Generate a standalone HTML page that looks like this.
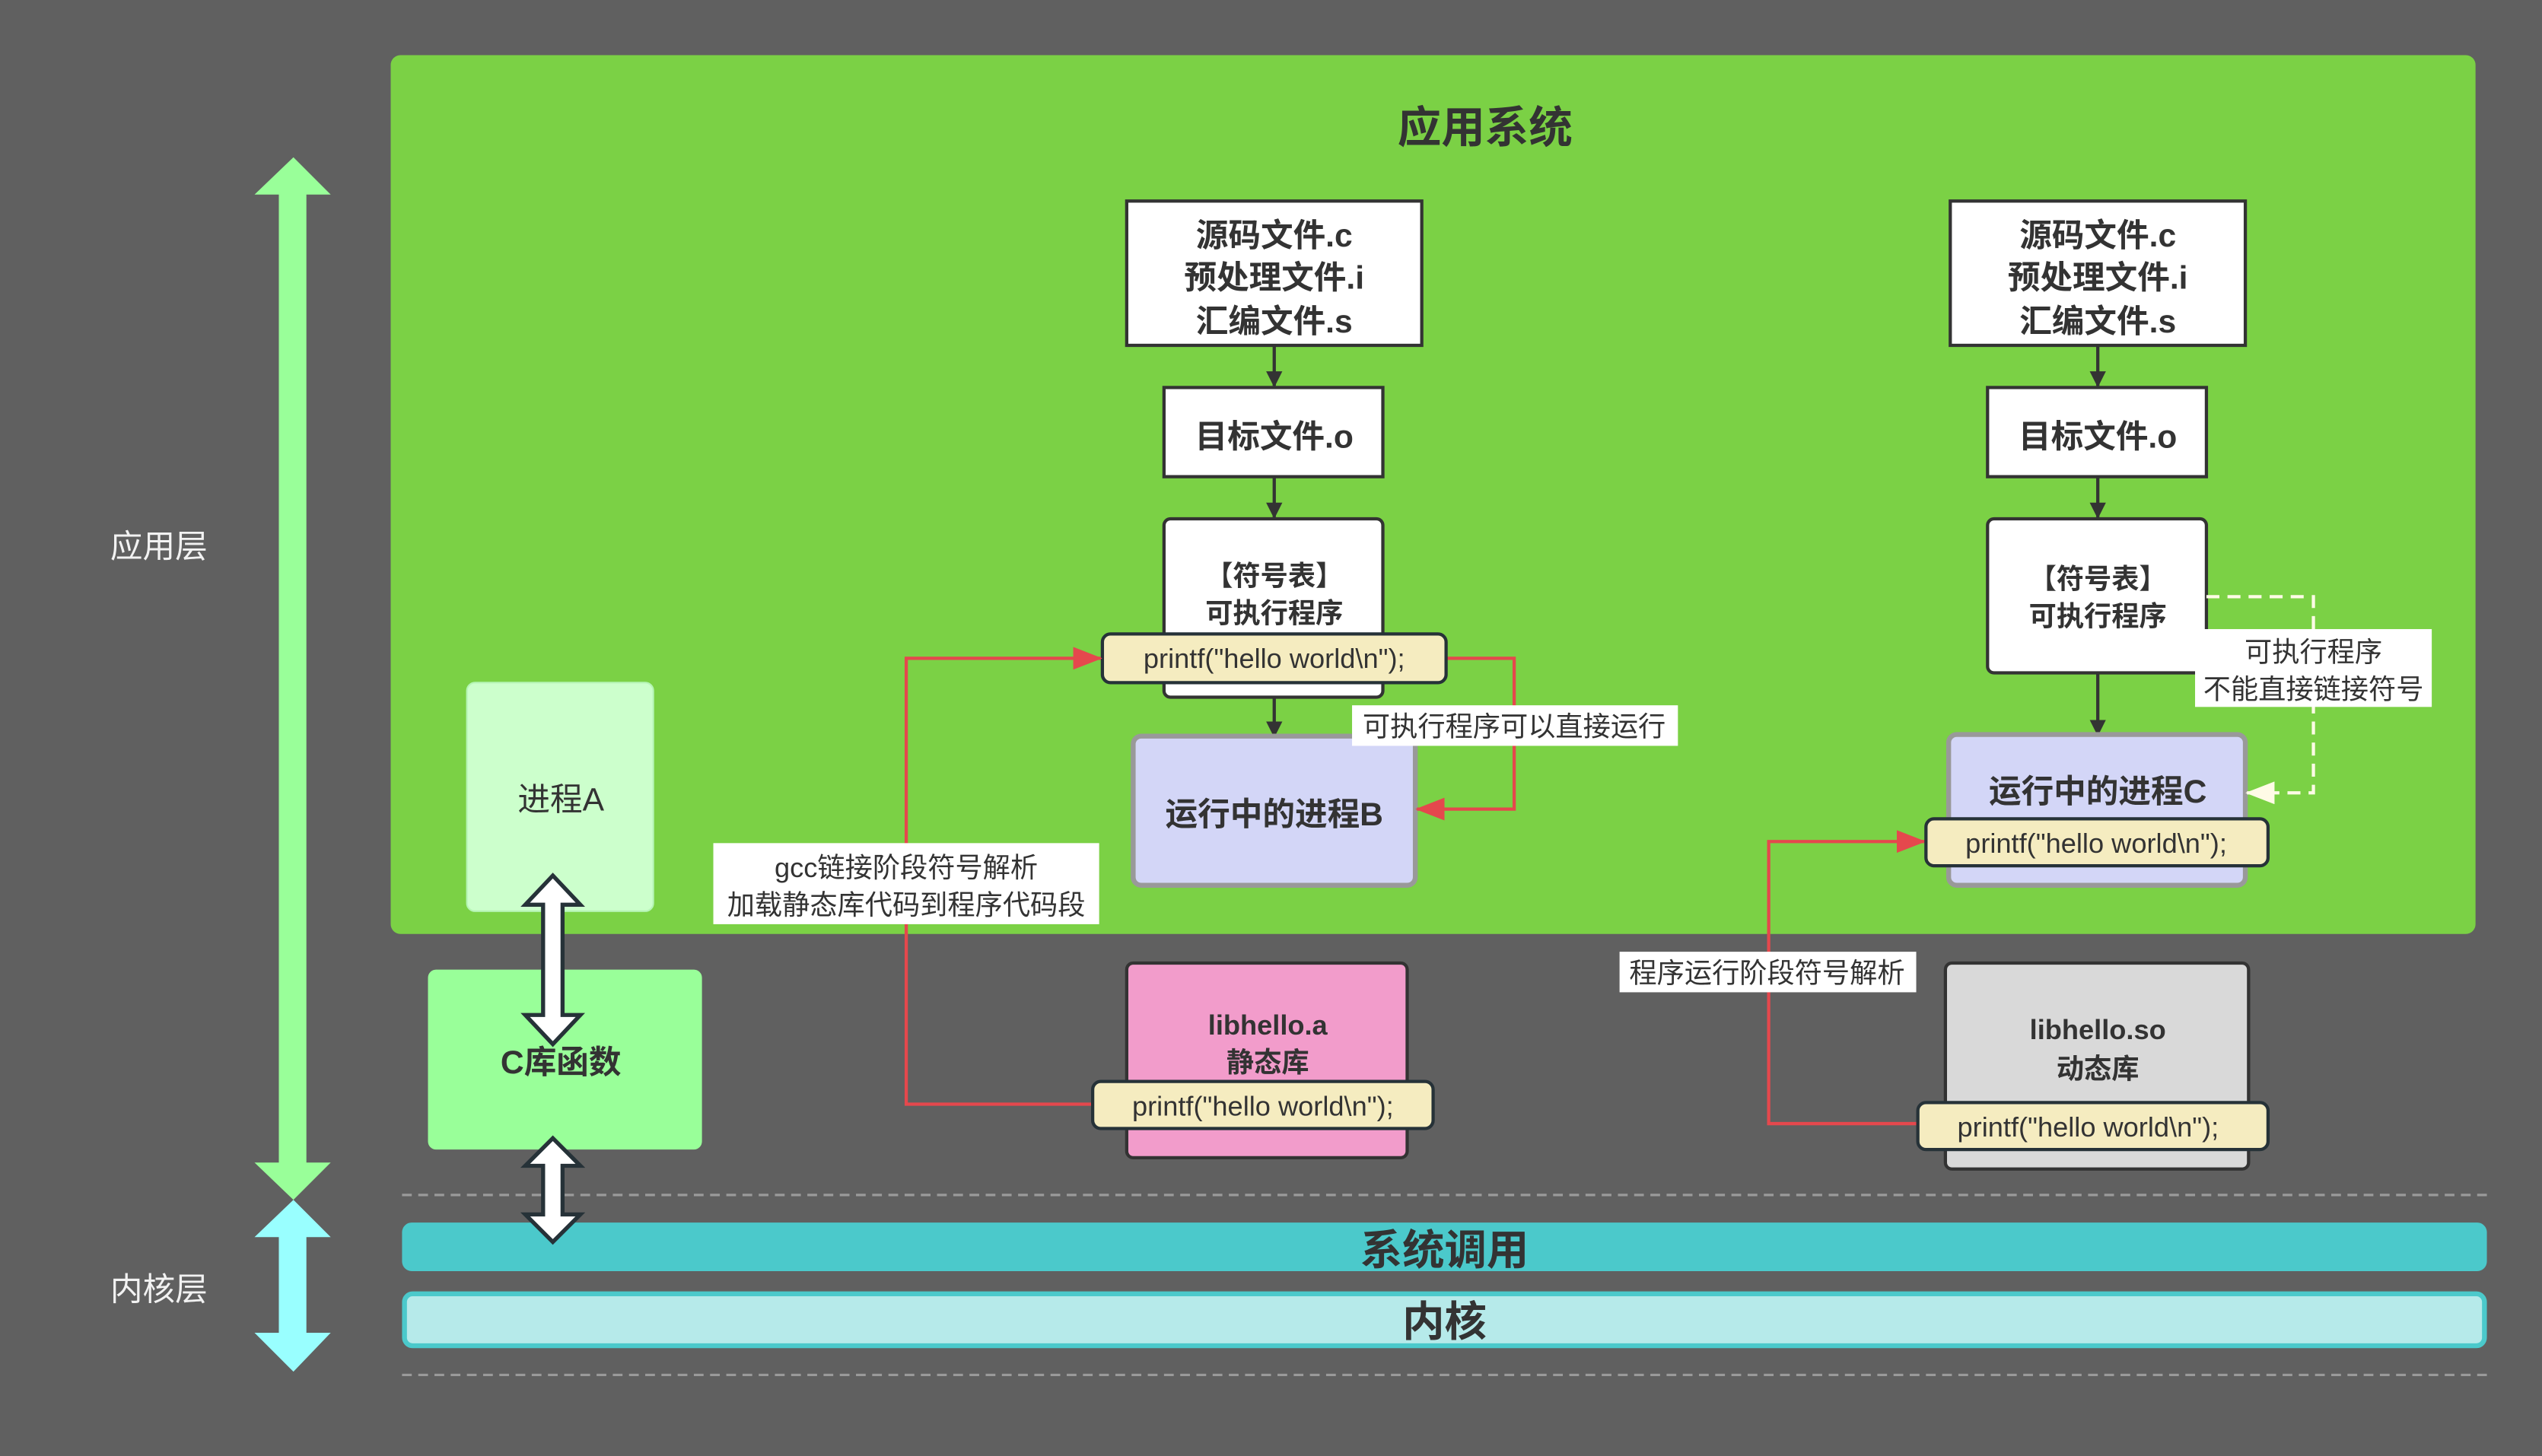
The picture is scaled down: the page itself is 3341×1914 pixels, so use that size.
<!DOCTYPE html>
<html><head><meta charset="utf-8"><style>
html,body{margin:0;padding:0;background:#606060;}
svg{display:block;}
text{font-family:"Liberation Sans","Noto Sans CJK SC",sans-serif;fill:#333;}
.b{font-weight:bold;}
</style></head><body>
<svg width="3341" height="1914" viewBox="0 0 1568 898" preserveAspectRatio="none" xmlns="http://www.w3.org/2000/svg">
<defs>
<marker id="ak" markerWidth="10" markerHeight="10" refX="9" refY="5" orient="auto" markerUnits="userSpaceOnUse"><path d="M0,0 L10,5 L0,10 z" fill="#333"/></marker>
<marker id="ar" markerWidth="18" markerHeight="14" refX="17" refY="7" orient="auto" markerUnits="userSpaceOnUse"><path d="M0,0 L18,7 L0,14 z" fill="#e5484d"/></marker>
<marker id="aw" markerWidth="18" markerHeight="14" refX="17" refY="7" orient="auto" markerUnits="userSpaceOnUse"><path d="M0,0 L18,7 L0,14 z" fill="#fffbe6"/></marker>
</defs>
<rect width="1568" height="898" fill="#606060"/>
<rect x="241" y="34" width="1286" height="542" rx="6" fill="#7bd145"/>
<text x="916" y="88" font-size="27" class="b" text-anchor="middle">应用系统</text>

<!-- left layer arrows -->
<polygon points="181,97 204,120 189,120 189,717 204,717 181,740 157,717 172,717 172,120 157,120" fill="#99ff99"/>
<polygon points="181,740 204,763 189,763 189,822 204,822 181,846 157,822 172,822 172,763 157,763" fill="#99ffff"/>
<text x="98" y="344" font-size="20" text-anchor="middle" style="fill:#f2f2f2">应用层</text>
<text x="98" y="802" font-size="20" text-anchor="middle" style="fill:#f2f2f2">内核层</text>

<!-- dashed lines -->
<line x1="248" y1="737" x2="1534" y2="737" stroke="#9a9a9a" stroke-width="1.5" stroke-dasharray="6,4"/>
<line x1="248" y1="848" x2="1534" y2="848" stroke="#9a9a9a" stroke-width="1.5" stroke-dasharray="6,4"/>

<!-- bars -->
<rect x="248" y="754" width="1286" height="30" rx="6" fill="#4bc9cb"/>
<text x="891" y="780" font-size="26" class="b" text-anchor="middle">系统调用</text>
<rect x="249.5" y="798" width="1283" height="32" rx="5" fill="#b6eaea" stroke="#4bc9cb" stroke-width="3"/>
<text x="891" y="824" font-size="26" class="b" text-anchor="middle">内核</text>

<!-- process A / C lib -->
<rect x="288" y="421" width="115" height="141" rx="5" fill="#ccffcc" stroke="#b5f5b5" stroke-width="1"/>
<text x="346" y="500" font-size="20" text-anchor="middle">进程A</text>
<rect x="264" y="598" width="169" height="111" rx="5" fill="#99ff99"/>
<text x="346" y="662" font-size="20" class="b" text-anchor="middle">C库函数</text>
<polygon points="341,540 358,558 347,558 347,626 358,626 341,644 324,626 335,626 335,558 324,558" fill="#fff" stroke="#263238" stroke-width="2.5"/>
<polygon points="341,702 358,719 347,719 347,749 358,749 341,766 324,749 335,749 335,719 324,719" fill="#fff" stroke="#263238" stroke-width="2.5"/>

<!-- left column -->
<rect x="695" y="124" width="182" height="89" fill="#fff" stroke="#333" stroke-width="2"/>
<text x="786" y="152" font-size="20" class="b" text-anchor="middle">源码文件.c</text>
<text x="786" y="178" font-size="20" class="b" text-anchor="middle">预处理文件.i</text>
<text x="786" y="205" font-size="20" class="b" text-anchor="middle">汇编文件.s</text>
<line x1="786" y1="213" x2="786" y2="238" stroke="#333" stroke-width="2" marker-end="url(#ak)"/>
<rect x="718" y="239" width="135" height="55" fill="#fff" stroke="#333" stroke-width="2"/>
<text x="786" y="276" font-size="20" class="b" text-anchor="middle">目标文件.o</text>
<line x1="786" y1="294" x2="786" y2="319" stroke="#333" stroke-width="2" marker-end="url(#ak)"/>
<rect x="718" y="320" width="135" height="110" rx="4" fill="#fff" stroke="#333" stroke-width="2"/>
<text x="786" y="361" font-size="17" class="b" text-anchor="middle">【符号表】</text>
<text x="786" y="384" font-size="17" class="b" text-anchor="middle">可执行程序</text>
<line x1="786" y1="430" x2="786" y2="454" stroke="#333" stroke-width="2" marker-end="url(#ak)"/>
<rect x="699" y="454" width="174" height="92" rx="5" fill="#d3d6f7" stroke="#999" stroke-width="3"/>
<text x="786" y="509" font-size="20" class="b" text-anchor="middle">运行中的进程B</text>
<polyline points="892,406 934,406 934,499 874,499" fill="none" stroke="#e5484d" stroke-width="2" marker-end="url(#ar)"/>
<rect x="680" y="391" width="212" height="30" rx="5" fill="#f5ecc0" stroke="#263238" stroke-width="2"/>
<text x="786" y="412" font-size="17" text-anchor="middle">printf("hello world\n");</text>
<rect x="834" y="435" width="201" height="25" fill="#fff"/>
<text x="934" y="454" font-size="17" text-anchor="middle">可执行程序可以直接运行</text>

<!-- libhello.a -->
<rect x="695" y="594" width="173" height="120" rx="4" fill="#f29ccb" stroke="#333" stroke-width="2"/>
<text x="782" y="638" font-size="17" class="b" text-anchor="middle">libhello.a</text>
<text x="782" y="661" font-size="17" class="b" text-anchor="middle">静态库</text>
<polyline points="674,681 559,681 559,406 679,406" fill="none" stroke="#e5484d" stroke-width="2" marker-end="url(#ar)"/>
<rect x="674" y="667" width="210" height="29" rx="5" fill="#f5ecc0" stroke="#263238" stroke-width="2"/>
<text x="779" y="688" font-size="17" text-anchor="middle">printf("hello world\n");</text>
<rect x="440" y="520" width="238" height="50" fill="#fff"/>
<text x="559" y="541" font-size="17" text-anchor="middle">gcc链接阶段符号解析</text>
<text x="559" y="564" font-size="17" text-anchor="middle">加载静态库代码到程序代码段</text>

<!-- right column -->
<rect x="1203" y="124" width="182" height="89" fill="#fff" stroke="#333" stroke-width="2"/>
<text x="1294" y="152" font-size="20" class="b" text-anchor="middle">源码文件.c</text>
<text x="1294" y="178" font-size="20" class="b" text-anchor="middle">预处理文件.i</text>
<text x="1294" y="205" font-size="20" class="b" text-anchor="middle">汇编文件.s</text>
<line x1="1294" y1="213" x2="1294" y2="238" stroke="#333" stroke-width="2" marker-end="url(#ak)"/>
<rect x="1226" y="239" width="135" height="55" fill="#fff" stroke="#333" stroke-width="2"/>
<text x="1294" y="276" font-size="20" class="b" text-anchor="middle">目标文件.o</text>
<line x1="1294" y1="294" x2="1294" y2="319" stroke="#333" stroke-width="2" marker-end="url(#ak)"/>
<rect x="1226" y="320" width="135" height="95" rx="4" fill="#fff" stroke="#333" stroke-width="2"/>
<text x="1294" y="363" font-size="17" class="b" text-anchor="middle">【符号表】</text>
<text x="1294" y="386" font-size="17" class="b" text-anchor="middle">可执行程序</text>
<line x1="1294" y1="415" x2="1294" y2="453" stroke="#333" stroke-width="2" marker-end="url(#ak)"/>
<rect x="1202" y="453" width="183" height="93" rx="5" fill="#d3d6f7" stroke="#999" stroke-width="3"/>
<text x="1294" y="495" font-size="20" class="b" text-anchor="middle">运行中的进程C</text>
<polyline points="1361,368 1427,368 1427,489 1386,489" fill="none" stroke="#fffbe6" stroke-width="2" stroke-dasharray="8,5" marker-end="url(#aw)"/>
<rect x="1354" y="388" width="146" height="48" fill="#fff"/>
<text x="1427" y="408" font-size="17" text-anchor="middle">可执行程序</text>
<text x="1427" y="431" font-size="17" text-anchor="middle">不能直接链接符号</text>

<!-- libhello.so -->
<rect x="1200" y="594" width="187" height="127" rx="4" fill="#d9d9d9" stroke="#333" stroke-width="2"/>
<text x="1294" y="641" font-size="17" class="b" text-anchor="middle">libhello.so</text>
<text x="1294" y="665" font-size="17" class="b" text-anchor="middle">动态库</text>
<polyline points="1183,693 1091,693 1091,519 1187,519" fill="none" stroke="#e5484d" stroke-width="2" marker-end="url(#ar)"/>
<rect x="1188" y="505" width="211" height="29" rx="5" fill="#f5ecc0" stroke="#263238" stroke-width="2"/>
<text x="1293" y="526" font-size="17" text-anchor="middle">printf("hello world\n");</text>
<rect x="1183" y="680" width="216" height="29" rx="5" fill="#f5ecc0" stroke="#263238" stroke-width="2"/>
<text x="1288" y="701" font-size="17" text-anchor="middle">printf("hello world\n");</text>
<rect x="999" y="587" width="183" height="25" fill="#fff"/>
<text x="1090" y="606" font-size="17" text-anchor="middle">程序运行阶段符号解析</text>
</svg>
</body></html>
